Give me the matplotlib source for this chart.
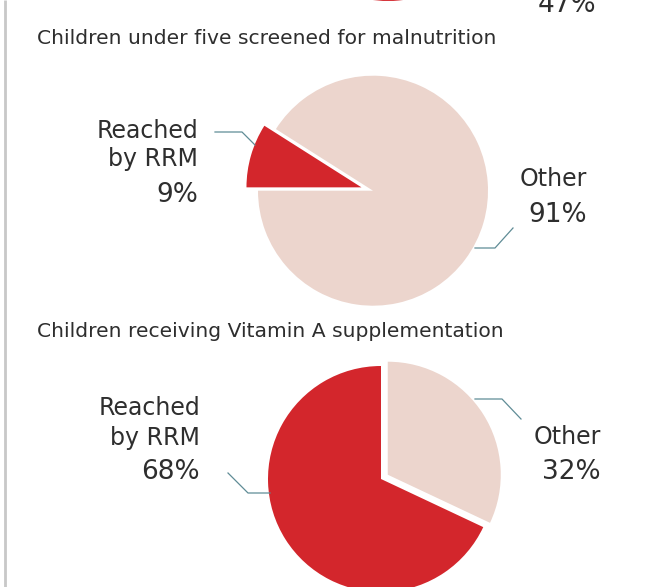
import matplotlib
matplotlib.use('Agg')
import matplotlib.pyplot as plt

W, H = 669, 587
RED   = '#d3262c'
PINK  = '#ecd5cd'
TEXT  = '#2e2e2e'
LEAD  = '#5f8c96'
plt.rcParams['font.family'] = ['DejaVu Sans']

# data
labels      = ['Reached\nby RRM', 'Other']
screened    = [9, 91]
vitamin_a   = [68, 32]
prev_values = [47, 53]

TITLE_SCREENED = 'Children under five screened for malnutrition'
TITLE_VITAMIN  = 'Children receiving Vitamin A supplementation'


def fy(y):
    """image-style y (from top) -> axes y"""
    return H - y


fig = plt.figure(figsize=(W / 100, H / 100), dpi=100)
ax = fig.add_axes([0, 0, 1, 1])
ax.set_xlim(0, W)
ax.set_ylim(0, H)
ax.set_aspect('equal')
ax.axis('off')

# left border rule
ax.plot([4.5, 4.5], [0, H], color='#c8c8c8', lw=2.0, solid_capstyle='butt')

# previous chart, cut off at the top
ax.pie(prev_values, colors=[RED, PINK], startangle=0,
       counterclock=False, center=(388, fy(-113)), radius=114,
       wedgeprops=dict(linewidth=0))
ax.text(596, fy(12), f'{prev_values[0]}%', ha='right', va='baseline',
        fontsize=19, color=TEXT)
ax.text(597, fy(3), '*', ha='left', va='baseline', fontsize=8, color=TEXT)

# chart 1: screened for malnutrition
ax.text(37, fy(44), TITLE_SCREENED, ha='left', va='baseline',
        fontsize=14.6, color=TEXT)
ax.pie(screened, colors=[RED, PINK], startangle=180, counterclock=False,
       explode=[12, 0], center=(373, fy(190.7)), radius=115,
       wedgeprops=dict(linewidth=0))
ax.text(198, fy(138.5), 'Reached', ha='right', va='baseline', fontsize=17, color=TEXT)
ax.text(198, fy(166), 'by RRM', ha='right', va='baseline', fontsize=17, color=TEXT)
ax.text(198, fy(201.5), f'{screened[0]}%', ha='right', va='baseline', fontsize=19, color=TEXT)
ax.text(587, fy(186), 'Other', ha='right', va='baseline', fontsize=17, color=TEXT)
ax.text(587, fy(221.5), f'{screened[1]}%', ha='right', va='baseline', fontsize=19, color=TEXT)
ax.plot([215, 242, 255], [fy(132), fy(132), fy(145)], color=LEAD, lw=0.9)
ax.plot([475, 495, 513], [fy(248), fy(248), fy(228)], color=LEAD, lw=0.9)

# chart 2: vitamin A
ax.text(37, fy(337), TITLE_VITAMIN, ha='left', va='baseline',
        fontsize=14.6, color=TEXT)
ax.pie([vitamin_a[1], vitamin_a[0]], colors=[PINK, RED], startangle=90,
       counterclock=False, explode=[8, 0], center=(381, fy(479)), radius=113,
       wedgeprops=dict(linewidth=0))
ax.text(200, fy(415), 'Reached', ha='right', va='baseline', fontsize=17, color=TEXT)
ax.text(200, fy(445), 'by RRM', ha='right', va='baseline', fontsize=17, color=TEXT)
ax.text(200, fy(479), f'{vitamin_a[0]}%', ha='right', va='baseline', fontsize=19, color=TEXT)
ax.text(601, fy(444), 'Other', ha='right', va='baseline', fontsize=17, color=TEXT)
ax.text(601, fy(479), f'{vitamin_a[1]}%', ha='right', va='baseline', fontsize=19, color=TEXT)
ax.plot([228, 248, 270], [fy(473), fy(493), fy(493)], color=LEAD, lw=0.9)
ax.plot([475, 502, 521], [fy(399), fy(399), fy(419)], color=LEAD, lw=0.9)

ax.set_xlim(0, W)
ax.set_ylim(0, H)

fig.savefig('out.png', dpi=100)
